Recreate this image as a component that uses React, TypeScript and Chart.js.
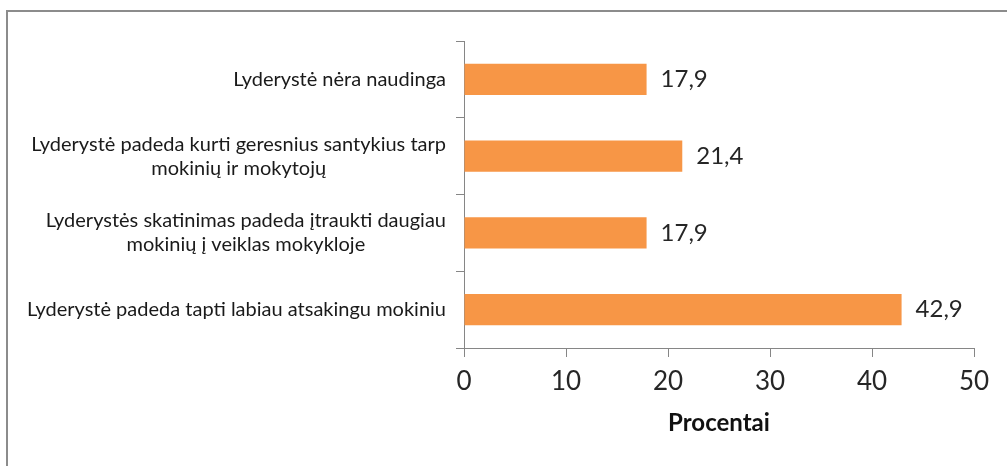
import React, { useEffect, useRef } from "react";
import { Chart, registerables } from "chart.js";

Chart.register(...registerables);

const categories: string[][] = [
  ["Lyderystė nėra naudinga"],
  ["Lyderystė padeda kurti geresnius santykius tarp", "mokinių ir mokytojų"],
  ["Lyderystės skatinimas padeda įtraukti daugiau", "mokinių į veiklas mokykloje"],
  ["Lyderystė padeda tapti labiau atsakingu mokiniu"],
];
const values: number[] = [17.9, 21.4, 17.9, 42.9];
const xTicks: number[] = [0, 10, 20, 30, 40, 50];
const axisTitle = "Procentai";

const FONT = "Lato, 'Open Sans', sans-serif";

const fmt = (v: number) => v.toFixed(1).replace(".", ",");

const valueLabels = {
  id: "valueLabels",
  afterDatasetsDraw(chart: any) {
    const ctx = chart.ctx;
    const meta = chart.getDatasetMeta(0);
    ctx.save();
    ctx.font = `24px ${FONT}`;
    ctx.fillStyle = "#262626";
    ctx.textAlign = "left";
    ctx.textBaseline = "middle";
    meta.data.forEach((bar: any, i: number) => {
      ctx.fillText(fmt(values[i]), bar.x + 14, bar.y);
    });
    ctx.restore();
  },
};

const categoryLabels = {
  id: "categoryLabels",
  afterDraw(chart: any) {
    const ctx = chart.ctx;
    const y = chart.scales.y;
    const rightEdge = y.right - 18;
    const lineH = 24;
    ctx.save();
    ctx.font = `20px ${FONT}`;
    ctx.fillStyle = "#1a1a1a";
    ctx.textAlign = "center";
    ctx.textBaseline = "middle";
    categories.forEach((lines, i) => {
      const cy = y.getPixelForValue(i);
      const w = Math.max(...lines.map((l) => ctx.measureText(l).width));
      const cx = rightEdge - w / 2;
      const y0 = cy - ((lines.length - 1) * lineH) / 2;
      lines.forEach((l, j) => ctx.fillText(l, cx, y0 + j * lineH));
    });
    ctx.restore();
  },
};

export default function App() {
  const ref = useRef<HTMLCanvasElement>(null);
  useEffect(() => {
    if (!ref.current) return;
    const chart = new Chart(ref.current, {
      type: "bar",
      data: {
        labels: categories.map((c) => c.join(" ")),
        datasets: [
          {
            data: values,
            backgroundColor: "#F79646",
            borderWidth: 0,
            barPercentage: 0.404,
            categoryPercentage: 1,
          },
        ],
      },
      options: {
        indexAxis: "y",
        responsive: false,
        animation: false,
        devicePixelRatio: 1,
        layout: { padding: { top: 41, right: 33, left: 0, bottom: 0 } },
        plugins: {
          legend: { display: false },
          tooltip: { enabled: false },
        },
        scales: {
          y: {
            type: "category",
            afterFit: (s: any) => {
              s.width = 464;
            },
            ticks: { display: false },
            grid: {
              display: true,
              drawOnChartArea: false,
              offset: true,
              tickLength: 8,
              color: "#868686",
            },
            border: { display: true, color: "#868686", width: 1 },
          },
          x: {
            type: "linear",
            min: 0,
            max: 50,
            afterFit: (s: any) => {
              s.height = 118;
            },
            afterBuildTicks: (s: any) => {
              s.ticks = xTicks.map((v) => ({ value: v }));
            },
            ticks: {
              color: "#262626",
              font: { family: FONT, size: 26 },
              padding: 9,
            },
            grid: {
              display: true,
              drawOnChartArea: false,
              tickLength: 9,
              color: "#868686",
            },
            border: { display: true, color: "#868686", width: 1 },
            title: {
              display: true,
              text: axisTitle,
              color: "#111",
              font: { family: FONT, size: 24, weight: "bold" },
              padding: { top: 0, bottom: 28 },
            },
          },
        },
      },
      plugins: [valueLabels, categoryLabels],
    } as any);
    return () => chart.destroy();
  }, []);

  return (
    <div
      style={{
        position: "fixed",
        left: 0,
        top: 0,
        width: 1007,
        height: 466,
        overflow: "hidden",
        background: "#fff",
      }}
    >
      <div
        style={{
          position: "absolute",
          left: 6,
          top: 10,
          width: 1100,
          height: 600,
          border: "2px solid #8c8c8c",
        }}
      />
      <canvas
        ref={ref}
        width={1007}
        height={466}
        style={{ position: "absolute", left: 0, top: 0, width: 1007, height: 466 }}
      />
    </div>
  );
}
